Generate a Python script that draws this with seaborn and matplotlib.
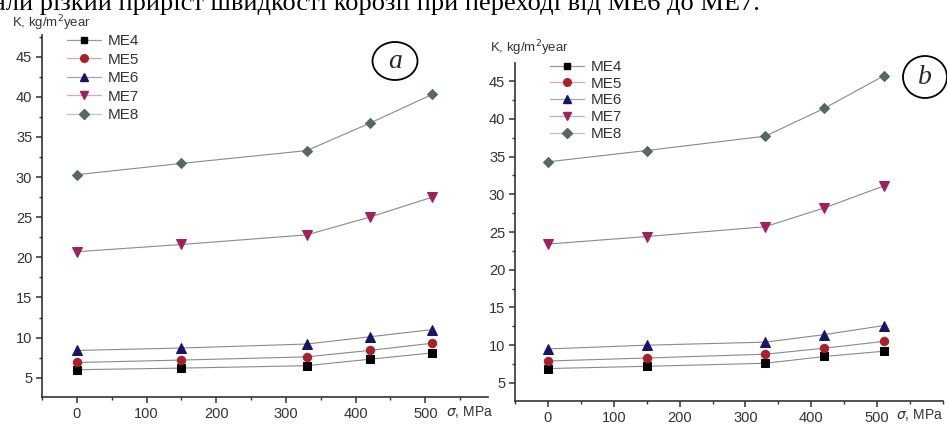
import matplotlib
matplotlib.use("Agg")
import matplotlib.pyplot as plt
from matplotlib.patches import Ellipse
from matplotlib.lines import Line2D
from matplotlib.colors import to_rgba
from matplotlib.ticker import MultipleLocator
import seaborn as sns
import pandas as pd

sigma = [0, 150, 330, 420, 510]
series = ["ME4", "ME5", "ME6", "ME7", "ME8"]

a_ME4 = [6.0, 6.2, 6.5, 7.3, 8.1]
a_ME5 = [6.9, 7.2, 7.6, 8.4, 9.3]
a_ME6 = [8.4, 8.7, 9.2, 10.1, 11.0]
a_ME7 = [20.7, 21.6, 22.8, 25.0, 27.5]
a_ME8 = [30.3, 31.7, 33.3, 36.7, 40.3]

b_ME4 = [6.9, 7.2, 7.6, 8.5, 9.2]
b_ME5 = [7.9, 8.3, 8.8, 9.6, 10.5]
b_ME6 = [9.5, 10.0, 10.4, 11.4, 12.6]
b_ME7 = [23.4, 24.4, 25.7, 28.2, 31.1]
b_ME8 = [34.3, 35.8, 37.7, 41.4, 45.7]

colors = {"ME4": "#000000", "ME5": "#a8202a", "ME6": "#15156a",
          "ME7": "#a0205e", "ME8": "#56685f"}
markers = {"ME4": "s", "ME5": "o", "ME6": "^", "ME7": "v", "ME8": "D"}
msizes = {"ME4": 5.5, "ME5": 6, "ME6": 6.5, "ME7": 6.5, "ME8": 5.5}

sns.set_theme(style="white")
plt.rcParams['font.family'] = ['Liberation Sans', 'DejaVu Sans']

W, H = 947, 426
fig = plt.figure(figsize=(W / 100, H / 100), dpi=100)


def px_ax(x0, x1, ytop, ybot):
    return fig.add_axes([x0 / W, 1 - ybot / H, (x1 - x0) / W, (ybot - ytop) / H])


def build(ax, data, ylim, sigma_x, leg_anchor, labelspacing):
    for name, vals in zip(series, data):
        df = pd.DataFrame({"sigma": sigma, "K": vals})
        sns.lineplot(data=df, x="sigma", y="K", ax=ax, color="#8a8a8a",
                     marker=markers[name], markersize=msizes[name],
                     markerfacecolor=colors[name],
                     markeredgecolor=colors[name], lw=0.8, legend=False)
    ax.set_xlim(-50, sigma_x[0])
    ax.set_ylim(*ylim)
    ax.xaxis.set_minor_locator(MultipleLocator(50))
    ax.yaxis.set_minor_locator(MultipleLocator(2.5))
    ax.set_xticks([0, 100, 200, 300, 400, 500])
    ax.set_yticks([5, 10, 15, 20, 25, 30, 35, 40, 45])
    ax.set_xlabel("")
    ax.set_ylabel("")
    for s in ["top", "right"]:
        ax.spines[s].set_visible(False)
    for s in ["left", "bottom"]:
        ax.spines[s].set_color("#333333")
        ax.spines[s].set_linewidth(1.2)
    ax.tick_params(axis="both", which="major", direction="out", length=4,
                   width=1.1, color="#333333", labelsize=10.5,
                   labelcolor="#333333", pad=3, bottom=True, left=True)
    ax.tick_params(axis="both", which="minor", direction="out", length=2.5,
                   width=1.0, color="#333333", bottom=True, left=True)
    ax.patch.set_alpha(0)
    ax.text(sigma_x[1], -0.018, r"$\sigma$, MPa", transform=ax.transAxes,
            ha="left", va="top", fontsize=10, color="#333333")
    hs = [Line2D([0], [0], color=to_rgba(colors[n], 0.4), lw=0.9,
                 marker=markers[n], markersize=msizes[n] - 0.5,
                 markerfacecolor=colors[n], markeredgecolor=colors[n])
          for n in series]
    ax.legend(hs, series, loc="upper left",
              bbox_to_anchor=(leg_anchor[0] / W, 1 - leg_anchor[1] / H),
              bbox_transform=fig.transFigure, frameon=False, fontsize=11,
              handlelength=2.2, handletextpad=0.45, labelspacing=labelspacing,
              borderpad=0, borderaxespad=0, labelcolor="#333333")


ax1 = px_ax(42, 488, 35, 397)
build(ax1, [a_ME4, a_ME5, a_ME6, a_ME7, a_ME8], (2.6, 47.7), (590, 0.905),
      (67, 34), 0.3)

ax2 = px_ax(515, 943, 63, 401)
build(ax2, [b_ME4, b_ME5, b_ME6, b_ME7, b_ME8], (2.6, 47.4), (600, 0.89),
      (550, 60), 0.18)

fig.text(12 / W, 1 - 23 / H, "K, kg/m$^2$year", fontsize=9.5, color="#333333",
         va="center", ha="left")
fig.text(490 / W, 1 - 48 / H, "K, kg/m$^2$year", fontsize=9.5, color="#333333",
         va="center", ha="left")

for (cx, cy, w, h, t) in [(395, 61, 45, 38, "a"), (925, 77, 44, 42, "b")]:
    fig.add_artist(Ellipse((cx / W, 1 - cy / H), w / W, h / H,
                           transform=fig.transFigure, fill=False,
                           lw=1.3, color="black"))
    fig.text(cx / W, 1 - cy / H, t, fontsize=20, style="italic",
             family=["Liberation Serif"], ha="center", va="center")

fig.text(-6 / W, 1 - 10 / H,
         "али різкий приріст швидкості корозії при переході від МЕ6 до МЕ7.",
         fontsize=19, family=["Liberation Serif"], ha="left", va="baseline",
         color="black")

fig.savefig("out.png", dpi=100)
